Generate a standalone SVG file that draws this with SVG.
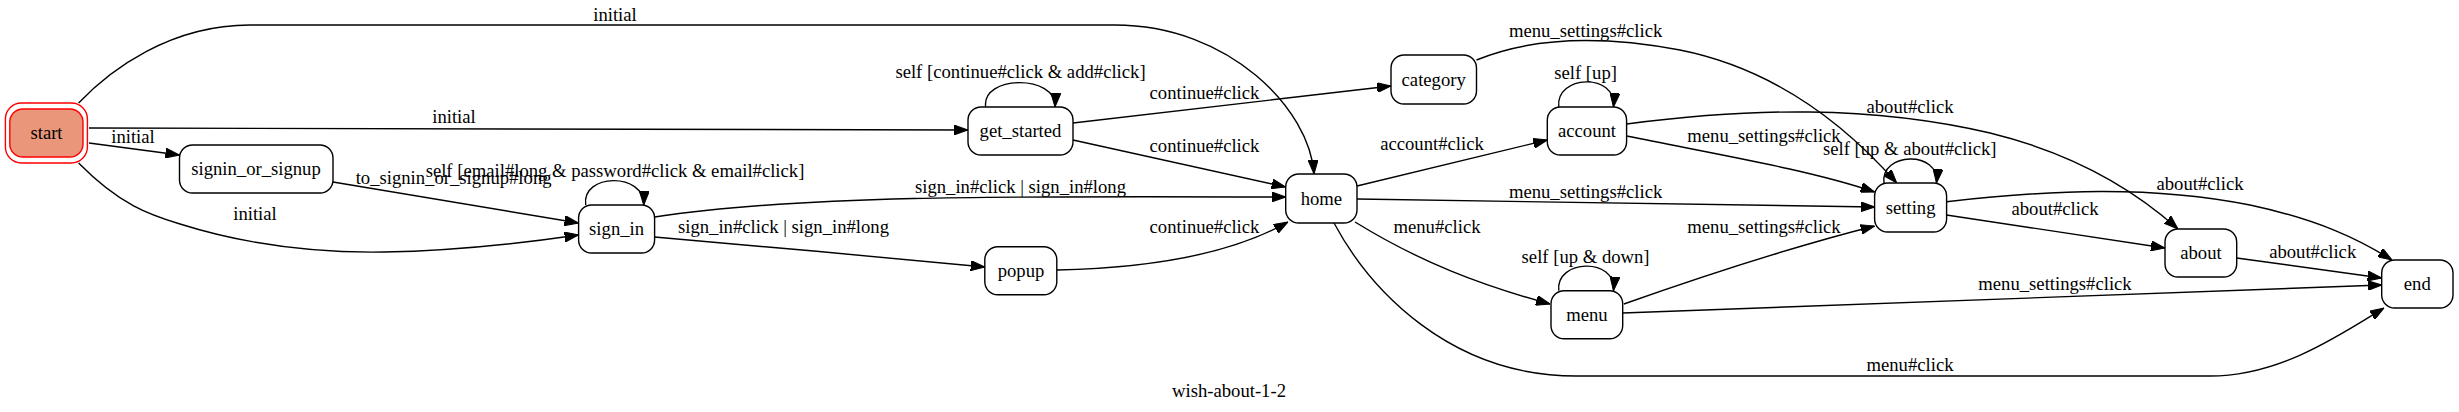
<svg xmlns="http://www.w3.org/2000/svg" width="2459" height="412" viewBox="0 0 2459 412">
<style>
.n rect{fill:#fff;stroke:#000;stroke-width:1.4}
text{font-family:"Liberation Serif","Times New Roman",serif;font-size:18.67px;fill:#000;text-anchor:middle}
.e path{fill:none;stroke:#000;stroke-width:1.4;marker-end:url(#ah)}
</style>
<defs>
<marker id="ah" viewBox="0 0 14 10" refX="14" refY="5" markerWidth="14" markerHeight="10" markerUnits="userSpaceOnUse" orient="auto">
<path d="M0,0 L14,5 L0,10 z" fill="#000" stroke="#000" stroke-width="1"/>
</marker>
</defs>
<rect width="2459" height="412" fill="#fff"/>
<g id="edges" class="e">
<path d="M78.6,103 C110,70 170,25 250,25 L1115,25 C1230,25 1310,110 1314,174"/>
<text x="615" y="21">initial</text>
<path d="M89,128 L967.9,130"/>
<text x="454" y="123">initial</text>
<path d="M89,143 L179.5,155"/>
<text x="133" y="143">initial</text>
<path d="M78.6,163 C120,205 150,215 180,224 C250,246 320,253 384,252 C450,251 510,245 578.6,235"/>
<text x="255" y="220">initial</text>
<path d="M333,182 L578.6,223"/>
<text x="453.6" y="184">to_signin_or_signup#long</text>
<path d="M585.7,205 C581,173 645,172 643.75,205"/>
<text x="615" y="177">self [email#long &amp; password#click &amp; email#click]</text>
<path d="M985.7,107 C981,75 1057,74 1055,107"/>
<text x="1020.5" y="78">self [continue#click &amp; add#click]</text>
<path d="M1073,123 L1391,86"/>
<text x="1204.5" y="99">continue#click</text>
<path d="M1073,140 L1285.7,187"/>
<text x="1204.5" y="152">continue#click</text>
<path d="M654.5,217 C800,195 1000,196 1285.7,197"/>
<text x="1020.5" y="193">sign_in#click | sign_in#long</text>
<path d="M654.5,237 C760,246 880,257 984.8,267"/>
<text x="783.5" y="233">sign_in#click | sign_in#long</text>
<path d="M1057,270 C1150,268 1230,255 1288,222"/>
<text x="1204.5" y="233">continue#click</text>
<path d="M1357,186 L1547.3,140"/>
<text x="1432" y="150">account#click</text>
<path d="M1357,199 L1874.6,207"/>
<text x="1585.6" y="198">menu_settings#click</text>
<path d="M1355,222 C1420,262 1480,285 1550,304"/>
<text x="1437" y="233">menu#click</text>
<path d="M1334,223 C1370,290 1450,376 1576,376 L2210,376 C2280,376 2340,335 2384,308"/>
<text x="1910" y="371">menu#click</text>
<path d="M1476.5,60 C1530,38 1600,35 1680,50 C1780,70 1850,130 1896.7,183"/>
<text x="1585.6" y="37">menu_settings#click</text>
<path d="M1558.8,107 C1555,75 1617,72 1613.5,107"/>
<text x="1585.6" y="79">self [up]</text>
<path d="M1626.6,124 C1750,108 1870,105 1990,133 C2080,155 2140,195 2178,229"/>
<text x="1910" y="113">about#click</text>
<path d="M1626.6,136 C1720,155 1810,170 1874.6,192"/>
<text x="1764" y="142">menu_settings#click</text>
<path d="M1884,183 C1880,152 1940,150 1936.5,183"/>
<text x="1909.7" y="155">self [up &amp; about#click]</text>
<path d="M1623.9,304 C1720,270 1800,245 1874.6,226"/>
<text x="1764" y="233">menu_settings#click</text>
<path d="M1558.8,290.7 C1555,259 1617,257 1613.5,290.7"/>
<text x="1585.6" y="263">self [up &amp; down]</text>
<path d="M1622.7,313 L2381.7,285"/>
<text x="2055" y="290">menu_settings#click</text>
<path d="M1946.5,201.7 C2050,190 2150,185 2250,205 C2320,220 2360,240 2392,260"/>
<text x="2200" y="190">about#click</text>
<path d="M1946.5,215 L2165,248"/>
<text x="2055" y="215">about#click</text>
<path d="M2236.7,258 L2381.7,278"/>
<text x="2312.7" y="258">about#click</text>
</g>
<g id="start">
<rect x="5.4" y="103" width="82" height="60" rx="16" fill="none" stroke="#ff0000" stroke-width="1.4"/>
<rect x="9.8" y="109" width="73.2" height="48" rx="13" fill="#e9967a" stroke="#ff0000" stroke-width="1.4"/>
<text x="46.5" y="139">start</text>
</g>
<g id="signin_or_signup" class="n"><rect x="179.5" y="145" width="153.5" height="48" rx="13"/><text x="256" y="175">signin_or_signup</text></g>
<g id="sign_in" class="n"><rect x="578.6" y="205" width="76" height="48" rx="13"/><text x="616.6" y="235">sign_in</text></g>
<g id="get_started" class="n"><rect x="968" y="107" width="105" height="48" rx="13"/><text x="1020.5" y="137">get_started</text></g>
<g id="home" class="n"><rect x="1285.7" y="174" width="71.3" height="49" rx="13"/><text x="1321.4" y="204.5">home</text></g>
<g id="popup" class="n"><rect x="984.8" y="246.7" width="72" height="48" rx="13"/><text x="1021" y="276.7">popup</text></g>
<g id="category" class="n"><rect x="1391" y="55" width="85.5" height="49" rx="13"/><text x="1433.7" y="85.5">category</text></g>
<g id="account" class="n"><rect x="1547.3" y="107" width="79.3" height="48" rx="13"/><text x="1587" y="137">account</text></g>
<g id="setting" class="n"><rect x="1874.6" y="183" width="72" height="49" rx="13"/><text x="1910.6" y="213.5">setting</text></g>
<g id="menu" class="n"><rect x="1551" y="290.7" width="71.7" height="48" rx="13"/><text x="1586.9" y="320.7">menu</text></g>
<g id="about" class="n"><rect x="2165" y="229" width="71.7" height="48" rx="13"/><text x="2201" y="259">about</text></g>
<g id="end" class="n"><rect x="2381.7" y="260" width="71.3" height="48" rx="13"/><text x="2417.3" y="290">end</text></g>
<text x="1229" y="397">wish-about-1-2</text>
</svg>
